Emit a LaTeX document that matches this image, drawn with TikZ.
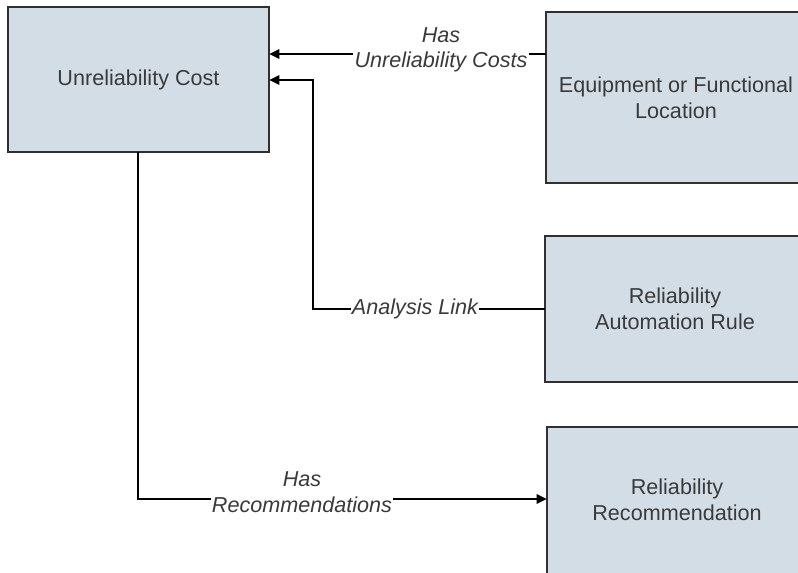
\documentclass[tikz,border=0pt]{standalone}
\usepackage{fontspec}
\setmainfont{Liberation Sans}
\usetikzlibrary{arrows.meta,backgrounds}
\definecolor{boxfill}{HTML}{D3DDE6}
\definecolor{boxline}{HTML}{303030}
\definecolor{txt}{HTML}{3A3A3A}
\begin{document}
\begin{tikzpicture}[x=0.75pt,y=-0.75pt,
  entity/.style={text=txt, minimum width=260*0.75pt, align=center, inner sep=0pt,
    font=\fontsize{16.2}{19.5}\selectfont},
  boxshape/.style={draw=boxline, line width=1.5pt, fill=boxfill},
  conn/.style={draw=black, line width=1.3pt},
  arr/.style={conn, -{Triangle[length=7.5pt,width=7pt]}},
  lbl/.style={fill=white, text=txt, inner sep=1pt, align=center,
    font=\fontsize{16.2}{19}\selectfont\itshape}]
\useasboundingbox (0,0) rectangle (798,572);
\node[entity, minimum width=261*0.75pt, minimum height=145*0.75pt] (uc) at (138.5,79.5) {Unreliability Cost};
\node[entity, minimum height=171*0.75pt] (eq) at (676,97.5) {Equipment or Functional\\Location};
\node[entity, minimum height=146*0.75pt] (ar) at (675,309) {Reliability\\Automation Rule};
\node[entity, minimum height=146*0.75pt] (rr) at (677,500) {Reliability\\Recommendation};
\begin{scope}[on background layer]
  \draw[boxshape] (uc.north west) rectangle (uc.south east);
  \draw[boxshape] (eq.north west) rectangle ([xshift=30pt]eq.south east);
  \draw[boxshape] (ar.north west) rectangle ([xshift=30pt]ar.south east);
  \draw[boxshape] (rr.north west) rectangle ([xshift=30pt,yshift=-30pt]rr.south east);
\end{scope}
\coordinate (y1) at (0,54);
\coordinate (y2) at (0,80);
\coordinate (x2) at (313,0);
\coordinate (x3) at (138,0);
\coordinate (y3) at (0,499);
\draw[arr] (eq.west |- y1) -- (uc.east |- y1);
\draw[arr] (ar.west) -- (x2 |- ar.west) -- (x2 |- y2) -- (uc.east |- y2);
\draw[arr] (x3 |- uc.south) -- (x3 |- y3) -- (rr.west |- y3);
\node[lbl] (l1) at (441,50) {Has\\Unreliability Costs};
\node[lbl] (l2) at (415,309) {Analysis Link};
\node[lbl] (l3) at (302,492) {Has\\Recommendations};
\end{tikzpicture}
\end{document}
